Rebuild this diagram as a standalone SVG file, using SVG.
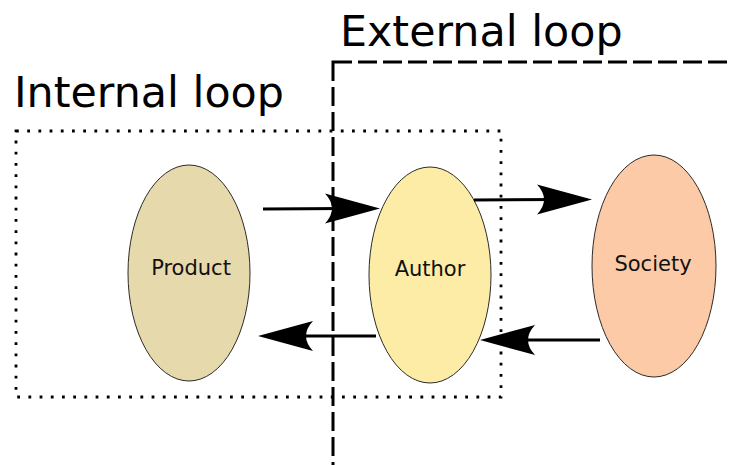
<svg xmlns="http://www.w3.org/2000/svg" width="730" height="465" viewBox="0 0 730 465">
  <style>
    .title { font-family: "DejaVu Sans", "Liberation Sans", sans-serif; font-size: 42.8px; fill: #000; }
    .label { font-family: "DejaVu Sans", "Liberation Sans", sans-serif; font-size: 21px; fill: #111; text-anchor: middle; }
    .node { stroke: #2b2b2b; stroke-width: 1; }
    .shaft { stroke: #000; stroke-width: 3; fill: none; }
    .head { fill: #000; }
  </style>
  <defs>
    <!-- arrowhead pointing right, tip at origin, concave back -->
    <path id="head" d="M0,0 L-55,-15 Q-41,0 -55,15 Z"/>
  </defs>
  <rect width="730" height="465" fill="#fff"/>

  <!-- loop frames -->
  <g id="external-loop">
    <rect x="333" y="62" width="430" height="404.5" fill="none" stroke="#000" stroke-width="3" stroke-dasharray="19 6"/>
    <text class="title" x="340" y="46">External loop</text>
  </g>
  <g id="internal-loop">
    <rect x="16" y="131" width="485" height="266" fill="none" stroke="#000" stroke-width="2.8" stroke-dasharray="2.8 8.4"/>
    <text class="title" x="14" y="107">Internal loop</text>
  </g>

  <!-- nodes -->
  <g id="product">
    <ellipse class="node" cx="189" cy="273" rx="61" ry="108" fill="#e6d9ab"/>
    <text class="label" x="191" y="275">Product</text>
  </g>
  <g id="author">
    <ellipse class="node" cx="430" cy="275" rx="61" ry="108" fill="#fdeca6"/>
    <text class="label" x="430" y="276">Author</text>
  </g>
  <g id="society">
    <ellipse class="node" cx="654" cy="266" rx="62" ry="111" fill="#fccaa6"/>
    <text class="label" x="653" y="271">Society</text>
  </g>

  <!-- connectors -->
  <g id="connectors">
    <line class="shaft" x1="263" y1="209" x2="345" y2="208.5"/>
    <use href="#head" class="head" transform="translate(380,208.5)"/>

    <line class="shaft" x1="474" y1="200" x2="555" y2="199.5"/>
    <use href="#head" class="head" transform="translate(592,199.5)"/>

    <line class="shaft" x1="376" y1="336" x2="295" y2="336"/>
    <use href="#head" class="head" transform="translate(258,336) rotate(180)"/>

    <line class="shaft" x1="600" y1="340" x2="517" y2="340"/>
    <use href="#head" class="head" transform="translate(480,340) rotate(180)"/>
  </g>
</svg>
